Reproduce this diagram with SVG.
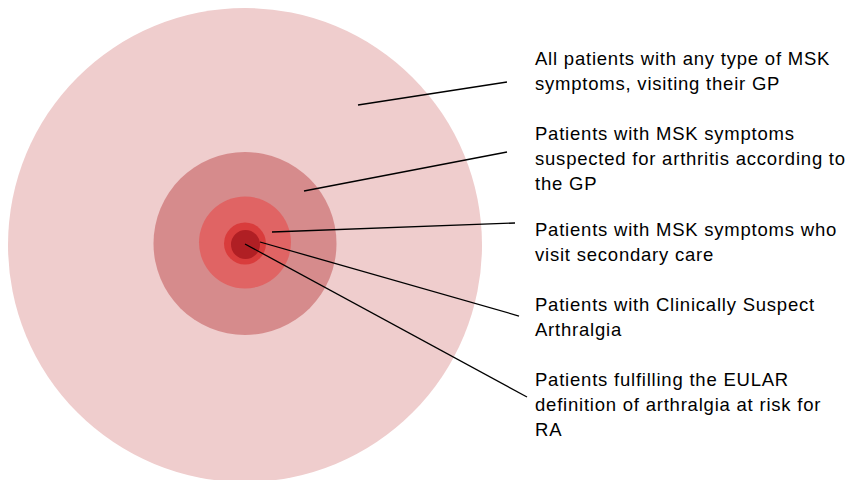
<svg xmlns="http://www.w3.org/2000/svg" width="850" height="480" viewBox="0 0 850 480">
<style>
.t{font-family:"Liberation Sans",Arial,sans-serif;font-size:18.5px;letter-spacing:0.78px;fill:#000}
.c{stroke:#000;stroke-width:1.3;fill:none}
</style>
<rect width="850" height="480" fill="#fff"/>
<g id="circles">
<circle id="c1" cx="245" cy="245" r="237" fill="#EFCDCD"/>
<circle id="c2" cx="245" cy="243.5" r="91.5" fill="#D68B8C"/>
<circle id="c3" cx="245" cy="242.5" r="46" fill="#E06464"/>
<circle id="c4" cx="245" cy="243.5" r="21" fill="#D93C3C"/>
<circle id="c5" cx="245.5" cy="244.5" r="14.5" fill="#B01F24"/>
</g>
<g id="connectors">
<line class="c" x1="358" y1="105" x2="507" y2="82"/>
<line class="c" x1="304" y1="191" x2="507" y2="152"/>
<line class="c" x1="272" y1="232" x2="515" y2="223"/>
<line class="c" x1="260" y1="242" x2="519" y2="316"/>
<line class="c" x1="245" y1="244" x2="527" y2="397"/>
</g>
<g id="label1"><text class="t" x="535" y="65">All patients with any type of MSK</text><text class="t" x="535" y="90">symptoms, visiting their GP</text></g>
<g id="label2"><text class="t" x="535" y="140">Patients with MSK symptoms</text><text class="t" x="535" y="165">suspected for arthritis according to</text><text class="t" x="535" y="190">the GP</text></g>
<g id="label3"><text class="t" x="535" y="236">Patients with MSK symptoms who</text><text class="t" x="535" y="261">visit secondary care</text></g>
<g id="label4"><text class="t" x="535" y="311">Patients with Clinically Suspect</text><text class="t" x="535" y="336">Arthralgia</text></g>
<g id="label5"><text class="t" x="535" y="386">Patients fulfilling the EULAR</text><text class="t" x="535" y="411">definition of arthralgia at risk for</text><text class="t" x="535" y="436">RA</text></g>
</svg>
